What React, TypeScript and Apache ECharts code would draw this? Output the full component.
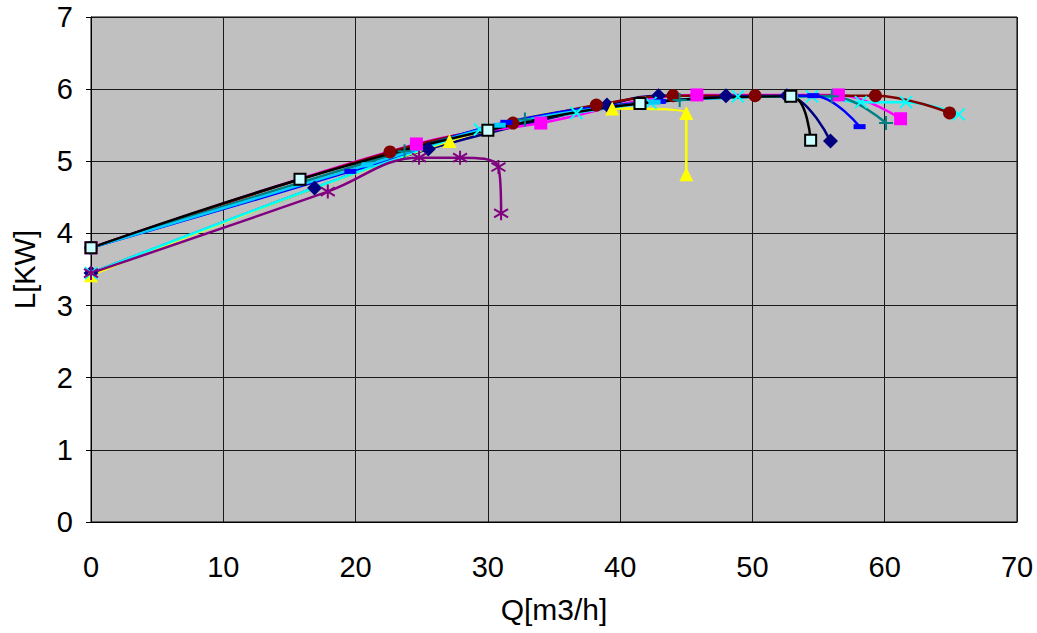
import React, { useEffect, useRef } from "react";
import * as echarts from "echarts";

const xTicks = [0, 10, 20, 30, 40, 50, 60, 70];
const yTicks = [0, 1, 2, 3, 4, 5, 6, 7];

const navy: [number, number][] = [[0, 3.45], [16.9, 4.63], [25.5, 5.17], [39.0, 5.78], [42.9, 5.91], [48.0, 5.91], [52.6, 5.91], [55.9, 5.28]];
const magenta: [number, number][] = [[0, 3.8], [24.6, 5.24], [34.0, 5.53], [45.8, 5.92], [56.5, 5.92], [61.2, 5.59]];
const yellow: [number, number][] = [[0, 3.42], [27.1, 5.28], [39.4, 5.73], [45.0, 5.67], [45.0, 4.82]];
const cyan: [number, number][] = [[0, 3.45], [29.4, 5.44], [36.7, 5.67], [42.3, 5.81], [48.9, 5.9], [54.5, 5.9], [58.2, 5.82], [61.6, 5.82], [65.6, 5.65]];
const purple: [number, number][] = [[0, 3.45], [17.9, 4.58], [24.8, 5.05], [27.9, 5.05], [30.8, 4.92], [31.0, 4.28]];
const maroon: [number, number][] = [[0, 3.8], [22.6, 5.13], [31.9, 5.53], [38.2, 5.78], [44.0, 5.91], [50.2, 5.91], [59.3, 5.91], [64.9, 5.67]];
const teal: [number, number][] = [[0, 3.8], [23.7, 5.14], [32.8, 5.58], [44.5, 5.85], [56.0, 5.9], [60.1, 5.53]];
const blue: [number, number][] = [[0, 3.8], [19.6, 4.86], [31.4, 5.54], [43.0, 5.83], [54.6, 5.91], [58.1, 5.48]];
const skyBlue: [number, number][] = [[0, 3.8], [20.9, 4.95], [30.9, 5.5], [42.6, 5.82], [53.0, 5.9]];
const black: [number, number][] = [[0, 3.8], [15.8, 4.75], [30.0, 5.43], [41.5, 5.8], [52.9, 5.9], [54.4, 5.29]];

const X_PATH = "path://M0,0L10,10M10,0L0,10";
const STAR_PATH = "path://M5,0L5,10M0,2L10,8M0,8L10,2";
const PLUS_PATH = "path://M5,0L5,10M0,5L10,5";

function filled(name: string, data: [number, number][], color: string, symbol: string, size: any, extra: any = {}) {
  return {
    name,
    type: "line",
    data,
    smooth: 0.4,
    symbol,
    symbolSize: size,
    showSymbol: true,
    lineStyle: { color, width: 2.5 },
    itemStyle: { color, ...extra },
    emphasis: { disabled: true },
  };
}

function stroked(name: string, data: [number, number][], color: string, symbol: string, size: number) {
  return {
    name,
    type: "line",
    data,
    smooth: 0.4,
    symbol,
    symbolSize: size,
    showSymbol: true,
    lineStyle: { color, width: 2.5 },
    itemStyle: { color: "none", borderColor: color, borderWidth: 2 },
    emphasis: { disabled: true },
  };
}

export default function App() {
  const ref = useRef<HTMLDivElement>(null);
  useEffect(() => {
    if (!ref.current) return;
    const chart = echarts.init(ref.current, undefined, { renderer: "svg" });
    const font = "'Liberation Sans', Arial, sans-serif";
    const narrow = "'Liberation Sans Narrow', 'Liberation Sans', Arial, sans-serif";
    chart.setOption({
      animation: false,
      grid: {
        left: 91,
        right: 20,
        top: 17,
        bottom: 111,
        show: true,
        backgroundColor: "#c0c0c0",
        borderColor: "#000",
        borderWidth: 1,
      },
      xAxis: {
        type: "value",
        min: xTicks[0],
        max: xTicks[xTicks.length - 1],
        interval: 10,
        name: "Q[m3/h]",
        nameLocation: "middle",
        nameGap: 72,
        nameTextStyle: { fontFamily: narrow, fontSize: 30, color: "#000" },
        axisLine: { show: true, lineStyle: { color: "#000", width: 1 } },
        axisTick: { show: false },
        axisLabel: { fontFamily: narrow, fontSize: 29, color: "#000", margin: 30 },
        splitLine: { show: true, lineStyle: { color: "#1a1a1a", width: 1 } },
      },
      yAxis: {
        type: "value",
        min: yTicks[0],
        max: yTicks[yTicks.length - 1],
        interval: 1,
        name: "L[KW]",
        nameLocation: "middle",
        nameGap: 52,
        nameTextStyle: { fontFamily: font, fontSize: 29, color: "#000" },
        axisLine: { show: true, lineStyle: { color: "#000", width: 1 } },
        axisTick: { show: true, inside: false, length: 5, lineStyle: { color: "#000" } },
        axisLabel: { fontFamily: font, fontSize: 29, color: "#000", margin: 18 },
        splitLine: { show: true, lineStyle: { color: "#1a1a1a", width: 1 } },
      },
      series: [
        filled("1", navy, "#000080", "diamond", 15),
        filled("2", magenta, "#ff00ff", "rect", 13),
        filled("3", yellow, "#ffff00", "triangle", 14),
        stroked("4", cyan, "#00ffff", X_PATH, 12),
        stroked("5", purple, "#800080", STAR_PATH, 14),
        filled("6", maroon, "#800000", "circle", 13),
        stroked("7", teal, "#008080", PLUS_PATH, 14),
        filled("8", blue, "#0000ff", "rect", [12, 5]),
        filled("9", skyBlue, "#00ccff", "rect", [12, 5]),
        {
          name: "10",
          type: "line",
          data: black,
          smooth: 0.4,
          symbol: "rect",
          symbolSize: 11,
          lineStyle: { color: "#000", width: 2.5 },
          itemStyle: { color: "#ccffff", borderColor: "#000", borderWidth: 2 },
          emphasis: { disabled: true },
        },
      ],
    });
    return () => chart.dispose();
  }, []);
  return <div ref={ref} style={{ position: "absolute", left: 0, top: 0, width: 1037, height: 633 }} />;
}
